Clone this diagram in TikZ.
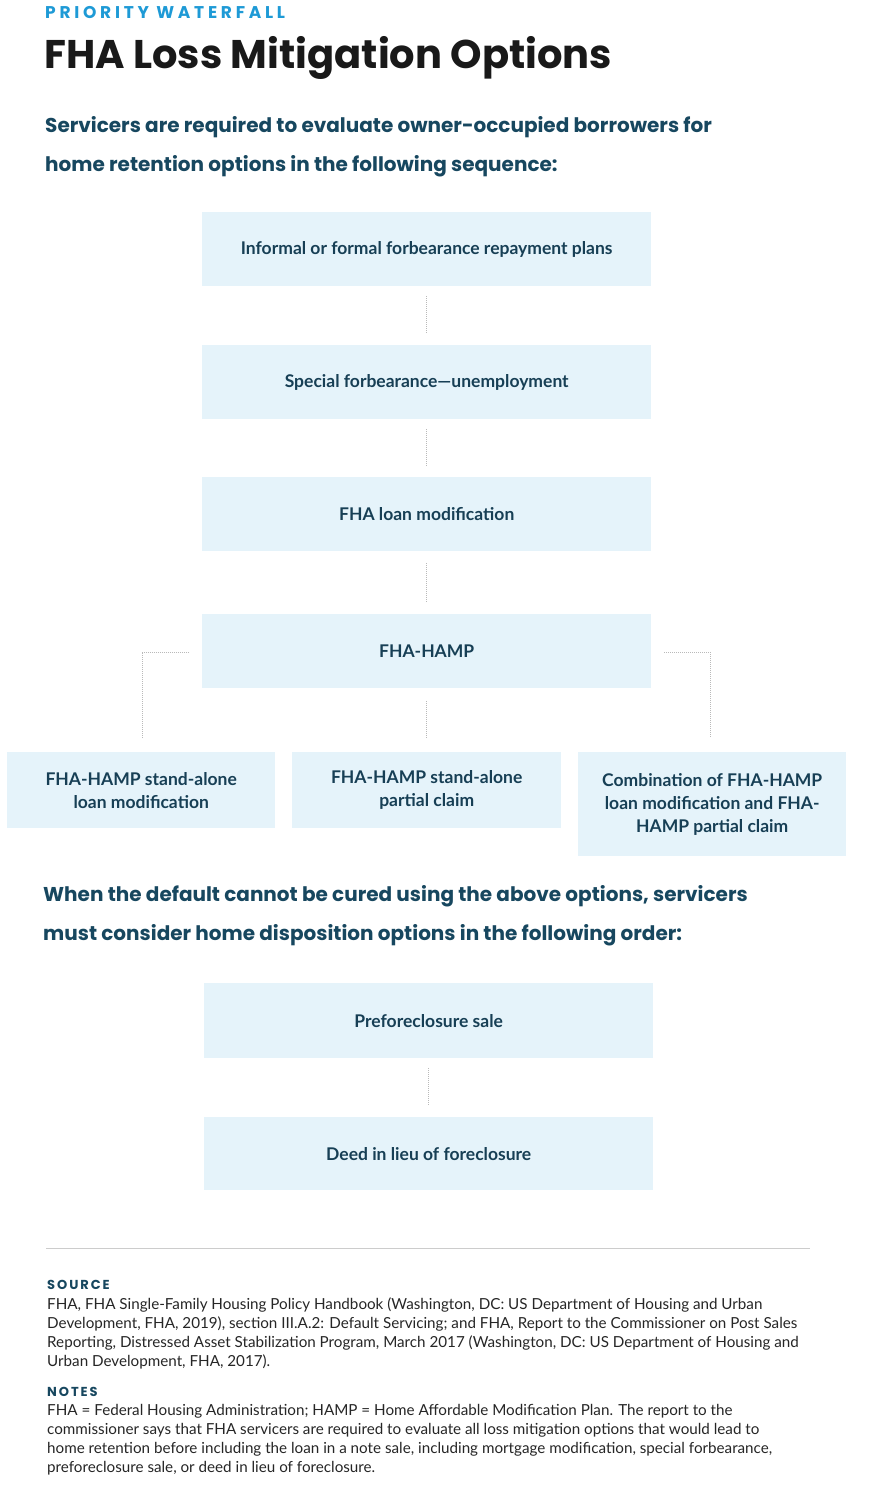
\documentclass[tikz,border=0pt]{standalone}
\usepackage{fontspec}
\setmainfont{Lato}
\newfontfamily\headf{Poppins}
\begin{document}
\begin{tikzpicture}[x=1pt,y=-1pt,
  box/.style={fill=boxfill,text=txt,align=center,inner sep=0pt,font=\bfseries\fontsize{17.5}{23}\selectfont},
  conn/.style={draw=gray!55,densely dotted,line width=1pt},
  head/.style={anchor=north west,inner sep=0pt,text=hd,align=left,font=\headf\bfseries\fontsize{20}{39}\selectfont}]
\definecolor{boxfill}{HTML}{E5F3FA}
\definecolor{txt}{HTML}{173F55}
\definecolor{hd}{HTML}{17475F}
\definecolor{kick}{HTML}{1E9AD6}
\useasboundingbox (0,0) rectangle (872,1500);
\fill[white] (0,0) rectangle (872,1500);
\node[anchor=north west,inner sep=0pt,text=kick,font=\headf\bfseries\fontsize{17}{20}\selectfont] (k) at (45,6) {\addfontfeature{LetterSpace=22}PRIORITY WATERFALL};
\node[anchor=north west,inner sep=0pt,text=black!90,font=\headf\bfseries\fontsize{40}{44}\selectfont] (t) at (44,36) {FHA Loss Mitigation Options};
\node[head] (h1) at (45,116) {Servicers are required to evaluate owner-occupied borrowers for\\home retention options in the following sequence:};
\node[box,minimum width=449pt,minimum height=74pt,anchor=north west] (a) at (202,212) {Informal or formal forbearance repayment plans};
\node[box,minimum width=449pt,minimum height=74pt,anchor=north west] (b) at (202,345) {Special forbearance—unemployment};
\node[box,minimum width=449pt,minimum height=74pt,anchor=north west] (c) at (202,477) {FHA loan modification};
\node[box,minimum width=449pt,minimum height=74pt,anchor=north west] (d) at (202,614) {FHA-HAMP};
\node[box,minimum width=268pt,minimum height=76pt,anchor=north west] (e1) at (7,752) {FHA-HAMP stand-alone\\loan modification};
\node[box,minimum width=269pt,minimum height=76pt,anchor=north west] (e2) at (292,752) {FHA-HAMP stand-alone\\partial claim};
\node[box,minimum width=268pt,minimum height=104pt,anchor=north west] (e3) at (578,752) {Combination of FHA-HAMP\\loan modification and FHA-\\HAMP partial claim};
\node[head] (h2) at (43,885) {When the default cannot be cured using the above options, servicers\\must consider home disposition options in the following order:};
\node[box,minimum width=449pt,minimum height=75pt,anchor=north west] (f) at (204,983) {Preforeclosure sale};
\node[box,minimum width=449pt,minimum height=73pt,anchor=north west] (g) at (204,1117) {Deed in lieu of foreclosure};
\draw[conn] ([yshift=-10pt]a.south) -- ([yshift=11pt]b.north);
\draw[conn] ([yshift=-10pt]b.south) -- ([yshift=10pt]c.north);
\draw[conn] ([yshift=-12pt]c.south) -- ([yshift=12pt]d.north);
\draw[conn] ([yshift=-13pt]d.south) -- ([yshift=14pt]e2.north);
\draw[conn] ([xshift=-13pt,yshift=-1pt]d.west) -| ([xshift=1pt,yshift=14pt]e1.north);
\draw[conn] ([xshift=13pt,yshift=-1pt]d.east) -| ([xshift=-2pt,yshift=14pt]e3.north);
\draw[conn] ([yshift=-10pt]f.south) -- ([yshift=11pt]g.north);
\coordinate (r1) at (46,1248); \coordinate (r2) at (810,1248);
\draw[gray!40,line width=0.8pt] (r1) -- (r2);
\node[anchor=north west,inner sep=0pt,text=hd,font=\headf\bfseries\fontsize{13}{15}\selectfont] (s) at (47,1280) {\addfontfeature{LetterSpace=15}SOURCE};
\node[anchor=north west,inner sep=0pt,text=black!85,align=left,font=\fontsize{15.2}{19}\selectfont] (st) at (47,1297) {FHA, FHA Single-Family Housing Policy Handbook (Washington, DC: US Department of Housing and Urban\\Development, FHA, 2019), section III.A.2: Default Servicing; and FHA, Report to the Commissioner on Post Sales\\Reporting, Distressed Asset Stabilization Program, March 2017 (Washington, DC: US Department of Housing and\\Urban Development, FHA, 2017).};
\node[anchor=north west,inner sep=0pt,text=hd,font=\headf\bfseries\fontsize{13}{15}\selectfont] (n) at (47,1387) {\addfontfeature{LetterSpace=15}NOTES};
\node[anchor=north west,inner sep=0pt,text=black!85,align=left,font=\fontsize{15.2}{19}\selectfont] (nt) at (47,1404) {FHA = Federal Housing Administration; HAMP = Home Affordable Modification Plan. The report to the\\commissioner says that FHA servicers are required to evaluate all loss mitigation options that would lead to\\home retention before including the loan in a note sale, including mortgage modification, special forbearance,\\preforeclosure sale, or deed in lieu of foreclosure.};
\end{tikzpicture}
\end{document}
